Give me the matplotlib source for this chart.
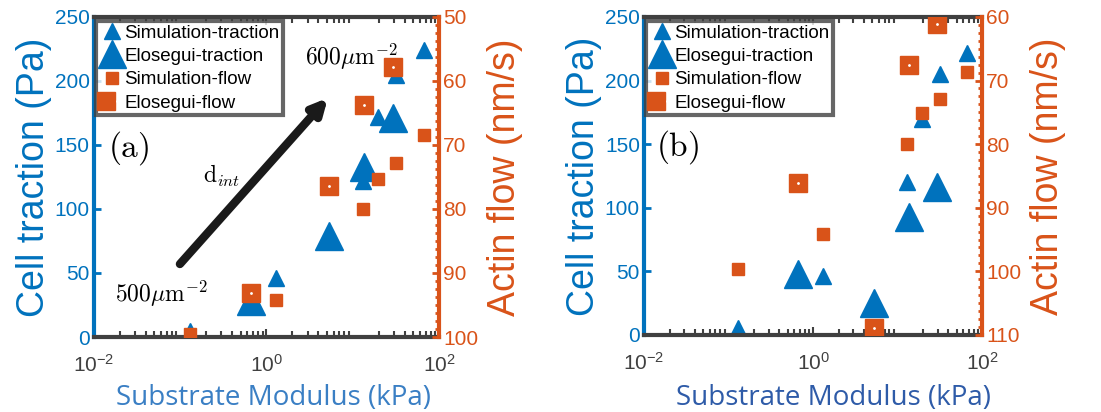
import numpy as np
import matplotlib.pyplot as plt
from matplotlib.ticker import AutoMinorLocator
from matplotlib.legend_handler import HandlerTuple

plt.rcParams['font.family'] = ['Liberation Sans', 'DejaVu Sans']
plt.rcParams['mathtext.fontset'] = 'custom'
plt.rcParams['mathtext.rm'] = 'Liberation Sans'
plt.rcParams['mathtext.it'] = 'Liberation Sans:italic'

BLUE = '#0072BD'
ORANGE = '#D95319'
GRAY = '#404040'

# substrate stiffness (kPa)
sim_E = [0.13, 1.3, 13, 19.5, 32, 67]
elo_E = [0.67, 5.3, 13.5, 29.5]

# panel (a)
simA_traction = [5, 46, 122, 172, 205, 224]
simA_flow = [99.5, 94.2, 80, 75.3, 72.8, 68.4]
eloA_traction = [28, 79, 133, 171]
eloA_flow = [93.1, 76.4, 63.7, 57.8]

# panel (b)
simB_traction = [5.5, 46, 120, 170, 205, 222]
simB_flow = [99.6, 94.1, 80, 75.1, 72.9, 68.6]
eloB_traction = [48, 25, 93, 116]
eloB_flow = [86.1, 108.9, 67.5, 61.1]

fig = plt.figure(figsize=(11.01, 4.12), dpi=100)


def panel(rect, sim_t, sim_f, elo_t, elo_f, flow_lim, tag, xlab_color, xlab_x):
    ax = fig.add_axes(rect)
    ax2 = ax.twinx()
    ax.set_xscale('log')
    ax.set_xlim(1e-2, 1e2)
    ax.set_ylim(0, 250)
    ax2.set_ylim(flow_lim[1], flow_lim[0])

    h1, = ax.plot(sim_E, sim_t, '^', color=BLUE, ms=12, mec=BLUE, ls='none')
    h2, = ax.plot(elo_E, elo_t, '^', color=BLUE, ms=20, mec=BLUE, ls='none')
    h3, = ax2.plot(sim_E, sim_f, 's', color=ORANGE, ms=9, mec=ORANGE, ls='none')
    h4, = ax2.plot(elo_E, elo_f, 's', color=ORANGE, ms=13, mec=ORANGE, ls='none')
    dot, = ax2.plot(elo_E, elo_f, '.', color='white', ms=2, ls='none')

    ax.set_xticks([1e-2, 1, 1e2])
    ax.set_yticks(np.arange(0, 251, 50))
    ax2.set_yticks(np.arange(flow_lim[0], flow_lim[1] + 1, 10))
    ax2.yaxis.set_minor_locator(AutoMinorLocator(8))

    ax.tick_params(axis='x', which='both', direction='in', top=True,
                   color=GRAY, labelcolor=GRAY, labelsize=15, width=1.5, pad=12)
    ax.tick_params(axis='x', which='major', length=6)
    ax.tick_params(axis='x', which='minor', length=4)
    ax.tick_params(axis='y', direction='in', color=BLUE, labelcolor=BLUE,
                   labelsize=15, length=5, width=2, pad=3)
    ax2.tick_params(axis='y', which='both', direction='in', color=ORANGE,
                    labelcolor=ORANGE, labelsize=15, width=2, pad=3)
    ax2.tick_params(axis='y', which='major', length=5)
    ax2.tick_params(axis='y', which='minor', length=3)

    for s in ['top', 'bottom']:
        ax.spines[s].set_color(GRAY)
        ax.spines[s].set_linewidth(3)
        ax2.spines[s].set_visible(False)
    ax.spines['left'].set_color(BLUE)
    ax.spines['left'].set_linewidth(3)
    ax.spines['right'].set_visible(False)
    ax2.spines['left'].set_visible(False)
    ax2.spines['right'].set_color(ORANGE)
    ax2.spines['right'].set_linewidth(3)

    ax.set_ylabel('Cell traction (Pa)', color=BLUE, fontsize=27, labelpad=2)
    ax2.set_ylabel('Actin flow (nm/s)', color=ORANGE, fontsize=27, labelpad=6)
    fig.text(xlab_x, 0.035, 'Substrate Modulus (kPa)', color=xlab_color,
             fontsize=20, family='Open Sans', ha='center', va='center')

    leg = ax2.legend([h1, h2, h3, (h4, dot)],
                     ['Simulation-traction', 'Elosegui-traction',
                      'Simulation-flow', 'Elosegui-flow'],
                     handler_map={tuple: HandlerTuple(ndivide=None, pad=0)},
                     loc='upper left', bbox_to_anchor=(0.006, 0.988),
                     fontsize=13.5, frameon=True, fancybox=False,
                     handlelength=1.25, handletextpad=0.05, labelspacing=0.33,
                     borderpad=0.2, borderaxespad=0.0)
    leg.get_frame().set_edgecolor(GRAY)
    leg.get_frame().set_linewidth(3)
    leg.set_zorder(10)

    ax2.text(0.1, 0.59, tag, transform=ax.transAxes, fontsize=24,
             ha='center', va='center', math_fontfamily='cm')
    return ax, ax2


axA, axA2 = panel([0.0854, 0.182, 0.3133, 0.777], simA_traction, simA_flow,
                  eloA_traction, eloA_flow, (50, 100), r'$\mathrm{(a)}$',
                  '#3a7fc4', 0.248)
axB, axB2 = panel([0.585, 0.187, 0.307, 0.772], simB_traction, simB_flow,
                  eloB_traction, eloB_flow, (60, 110), r'$\mathrm{(b)}$',
                  '#2e5ba8', 0.757)

# stiffness arrow in panel (a)
axA2.annotate('', xy=(0.678, 0.747), xytext=(0.249, 0.228),
              xycoords='axes fraction', textcoords='axes fraction',
              arrowprops=dict(arrowstyle='-|>', lw=6, color='#1a1a1a',
                              mutation_scale=22, shrinkA=0, shrinkB=0))
axA2.text(0.194, 0.134, r'$500\mu\mathrm{m}^{-2}$', transform=axA.transAxes,
          fontsize=17, ha='center', va='center', math_fontfamily='cm')
axA2.text(0.745, 0.875, r'$600\mu\mathrm{m}^{-2}$', transform=axA.transAxes,
          fontsize=17, ha='center', va='center', math_fontfamily='cm')
axA2.text(0.371, 0.503, r'$\mathrm{d}_{int}$', transform=axA.transAxes,
          fontsize=17, ha='center', va='center', math_fontfamily='cm')

fig.savefig('out.png', dpi=100)
